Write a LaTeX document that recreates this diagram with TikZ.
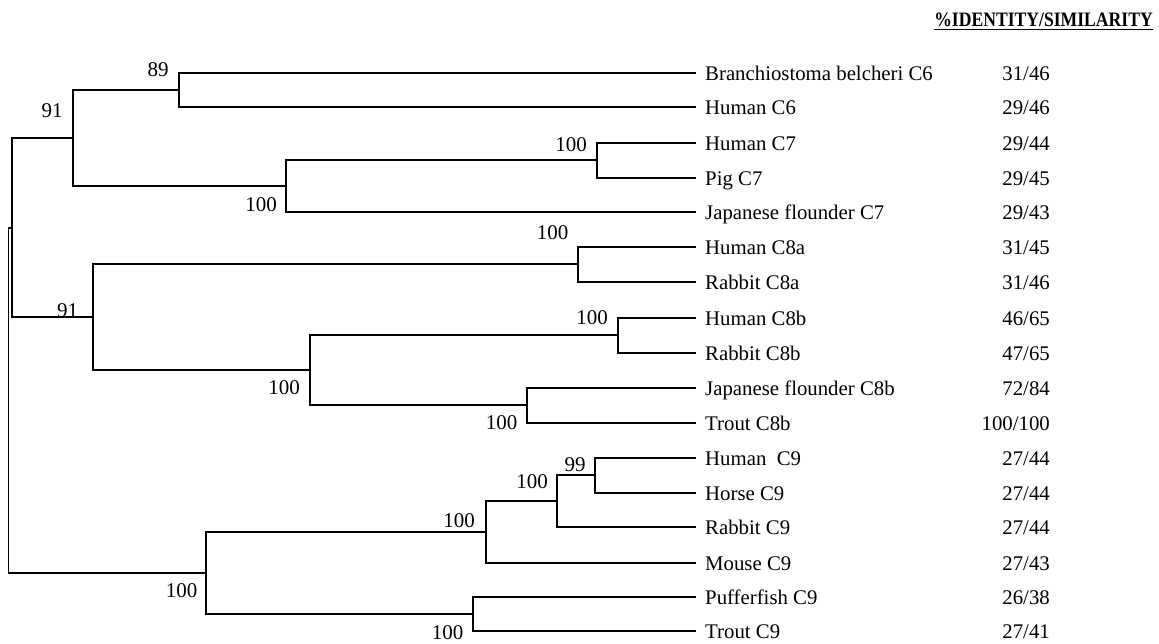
\documentclass[tikz,border=0pt]{standalone}
\usepackage{fontspec}
\setmainfont{Liberation Serif}
\usepackage{graphicx}
\begin{document}
\begin{tikzpicture}[x=1pt,y=-1pt,
  br/.style={line width=1.8pt,line cap=rect},
  leaflbl/.style={anchor=base west,inner sep=0pt,font=\fontsize{20.8}{24}\selectfont},
  vallbl/.style={anchor=base east,inner sep=0pt,font=\fontsize{20.8}{24}\selectfont},
  boot/.style={anchor=center,inner sep=0pt,font=\fontsize{21}{24}\selectfont}]
\useasboundingbox (0,0) rectangle (1159,644);
% header
\node[anchor=base east,inner sep=0pt,font=\fontsize{20.5}{24}\selectfont\bfseries] (hdr) at (1153,27) {\scalebox{0.86}[1]{\%IDENTITY/SIMILARITY}};
\draw[line width=1.3pt] ([yshift=-2.5pt]hdr.base west) -- ([yshift=-2.5pt]hdr.base east);
% leaves
\foreach \n/\y/\t/\v in {
 l1/73/Branchiostoma belcheri C6/31\slash46,
 l2/107/Human C6/29\slash46,
 l3/143/Human C7/29\slash44,
 l4/178/Pig C7/29\slash45,
 l5/212/Japanese flounder C7/29\slash43,
 l6/247/Human C8a/31\slash45,
 l7/282/Rabbit C8a/31\slash46,
 l8/318/Human C8b/46\slash65,
 l9/353/Rabbit C8b/47\slash65,
 l10/388/Japanese flounder C8b/72\slash84,
 l11/423/Trout C8b/100\slash100,
 l12/458/Human\ \ C9/27\slash44,
 l13/493/Horse C9/27\slash44,
 l14/527/Rabbit C9/27\slash44,
 l15/563/Mouse C9/27\slash43,
 l16/597/Pufferfish C9/26\slash38,
 l17/631/Trout C9/27\slash41}{
  \coordinate (\n) at (695,\y);
  \node[leaflbl] (\n t) at (705,\y+7.5) {\t};
  \node[vallbl] (\n v) at (1050,\y+7.5) {\v};
}
% internal nodes
\coordinate (A) at (179,90);
\coordinate (B) at (597,160);
\coordinate (C) at (286,186);
\coordinate (D) at (73,138);
\coordinate (E) at (578,264);
\coordinate (F) at (618,335);
\coordinate (G) at (527,405);
\coordinate (H) at (310,370);
\coordinate (I) at (93,317);
\coordinate (DI) at (12,228);
\coordinate (L) at (595,475);
\coordinate (M) at (557,501);
\coordinate (N) at (486,532);
\coordinate (O) at (473,614);
\coordinate (J) at (206,573);
\coordinate (R) at (8.5,400);
% connectors
\draw[br] (A) |- (l1); \draw[br] (A) |- (l2);
\draw[br] (B) |- (l3); \draw[br] (B) |- (l4);
\draw[br] (C) |- (B); \draw[br] (C) |- (l5);
\draw[br] (D) |- (A); \draw[br] (D) |- (C);
\draw[br] (E) |- (l6); \draw[br] (E) |- (l7);
\draw[br] (F) |- (l8); \draw[br] (F) |- (l9);
\draw[br] (G) |- (l10); \draw[br] (G) |- (l11);
\draw[br] (H) |- (F); \draw[br] (H) |- (G);
\draw[br] (I) |- (E); \draw[br] (I) |- (H);
\draw[br] (DI) |- (D); \draw[br] (DI) |- (I);
\draw[br] (L) |- (l12); \draw[br] (L) |- (l13);
\draw[br] (M) |- (L); \draw[br] (M) |- (l14);
\draw[br] (N) |- (M); \draw[br] (N) |- (l15);
\draw[br] (O) |- (l16); \draw[br] (O) |- (l17);
\draw[br] (J) |- (N); \draw[br] (J) |- (O);
\draw[br] (R) |- (DI); \draw[br] (R) |- (J);
% bootstrap values
\node[boot] (bA) at (158,69.5) {89};
\node[boot] (bD) at (52,110.5) {91};
\node[boot] (bB) at (571,144.5) {100};
\node[boot] (bC) at (261,204.5) {100};
\node[boot] (bE) at (552.5,232.5) {100};
\node[boot] (bI) at (67.5,310.5) {91};
\node[boot] (bF) at (592,317.5) {100};
\node[boot] (bH) at (284,388) {100};
\node[boot] (bG) at (501.5,422.5) {100};
\node[boot] (bL) at (575,464.5) {99};
\node[boot] (bM) at (532,481.5) {100};
\node[boot] (bN) at (459,520.5) {100};
\node[boot] (bJ) at (181.5,590.5) {100};
\node[boot] (bO) at (447.5,632.5) {100};
\end{tikzpicture}
\end{document}
